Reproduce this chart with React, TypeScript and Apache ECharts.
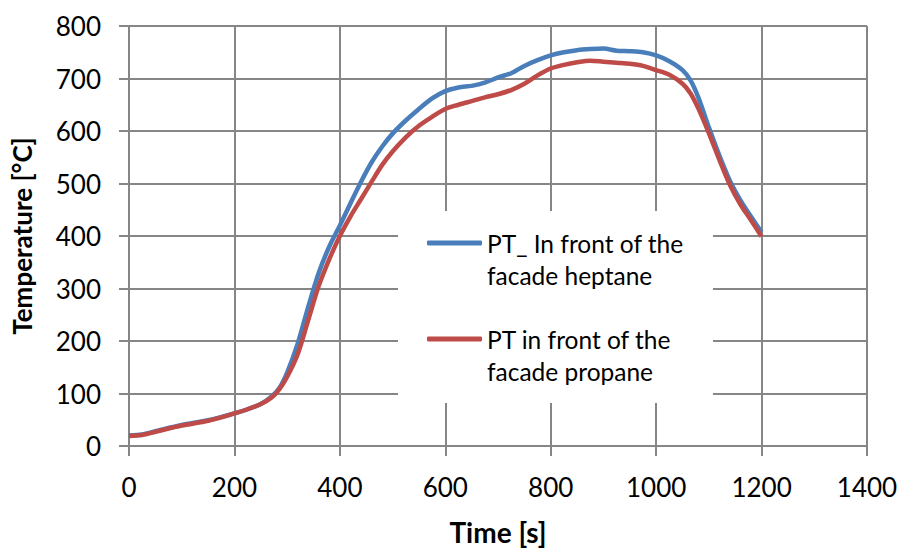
import React, { useEffect, useRef } from "react";
import * as echarts from "echarts";

const times = [0, 25, 50, 100, 150, 200, 225, 250, 270, 285, 300, 320, 340, 360, 380, 400, 420, 440, 460, 480, 500, 525, 550, 575, 600, 625, 650, 675, 700, 725, 750, 775, 800, 825, 850, 875, 900, 925, 950, 975, 1000, 1025, 1050, 1065, 1080, 1100, 1120, 1140, 1160, 1180, 1200];

const heptane = [20, 22, 28, 40, 49, 62, 70, 80, 94, 110, 140, 195, 265, 330, 380, 420, 462, 503, 540, 570, 595, 620, 642, 662, 676, 683, 686, 692, 702, 710, 724, 735, 744, 750, 754, 756, 757, 753, 752, 750, 744, 733, 716, 697, 664, 607, 553, 505, 468, 437, 407];

const propane = [19, 21, 27, 39, 48, 62, 70, 80, 92, 108, 132, 175, 240, 305, 356, 400, 437, 470, 503, 535, 561, 588, 610, 627, 642, 650, 657, 664, 670, 678, 690, 706, 719, 726, 731, 734, 732, 730, 728, 724, 716, 707, 690, 672, 643, 596, 545, 497, 460, 430, 399];

const seriesNames = ["PT_ In front of the\nfacade heptane", "PT in front of the\nfacade propane"];
const colors = ["#4a7ebb", "#be4b48"];
const xTicks = { min: 0, max: 1400, interval: 200 };
const yTicks = { min: 0, max: 800, interval: 100 };

const FONT = "Lato, 'Open Sans', sans-serif";

export default function App() {
  const ref = useRef<HTMLDivElement>(null);
  useEffect(() => {
    if (!ref.current) return;
    const chart = echarts.init(ref.current, undefined, { renderer: "svg" });
    const pair = (vals: number[]) => times.map((t, i) => [t, vals[i]]);
    chart.setOption({
      animation: false,
      backgroundColor: "#ffffff",
      textStyle: { fontFamily: FONT },
      grid: { left: 129, right: 35, top: 26, bottom: 105, containLabel: false, outerBoundsMode: "none" },
      xAxis: {
        type: "value",
        min: xTicks.min,
        max: xTicks.max,
        interval: xTicks.interval,
        name: "Time [s]",
        nameLocation: "middle",
        nameGap: 72,
        nameTextStyle: { fontFamily: FONT, fontWeight: "bold", fontSize: 28, color: "#000" },
        axisLine: { show: true, lineStyle: { color: "#868686", width: 2 } },
        axisTick: { show: true, length: 10, inside: false, lineStyle: { color: "#868686", width: 2 } },
        axisLabel: { fontFamily: FONT, fontSize: 26, color: "#000", margin: 28, formatter: (v: number) => String(v) },
        splitLine: { show: true, lineStyle: { color: "#868686", width: 2 } },
      },
      yAxis: {
        type: "value",
        min: yTicks.min,
        max: yTicks.max,
        interval: yTicks.interval,
        name: "Temperature [°C]",
        nameLocation: "middle",
        nameGap: 94,
        nameRotate: 90,
        nameTextStyle: { fontFamily: FONT, fontWeight: "bold", fontSize: 26, color: "#000" },
        axisLine: { show: true, lineStyle: { color: "#868686", width: 2 } },
        axisTick: { show: true, length: 10, inside: false, lineStyle: { color: "#868686", width: 2 } },
        axisLabel: { fontFamily: FONT, fontSize: 26, color: "#000", margin: 28, formatter: (v: number) => String(v) },
        splitLine: { show: true, lineStyle: { color: "#868686", width: 2 } },
      },
      legend: {
        orient: "vertical",
        left: 427,
        top: 195,
        padding: 0,
        itemGap: 0,
        itemWidth: 55,
        itemHeight: 5,
        icon: "roundRect",
        formatter: (name: string) => " \n" + name,
        textStyle: { fontFamily: FONT, fontSize: 24.5, color: "#000", lineHeight: 32 },
        data: seriesNames,
      },
      graphic: [
        {
          type: "rect",
          z: 1,
          shape: { x: 398, y: 211, width: 315, height: 192 },
          style: { fill: "#ffffff" },
        },
      ],
      series: [
        {
          name: seriesNames[0],
          type: "line",
          data: pair(heptane),
          showSymbol: false,
          smooth: 0.3,
          lineStyle: { color: colors[0], width: 4.5 },
          itemStyle: { color: colors[0] },
          z: 3,
        },
        {
          name: seriesNames[1],
          type: "line",
          data: pair(propane),
          showSymbol: false,
          smooth: 0.3,
          lineStyle: { color: colors[1], width: 4.5 },
          itemStyle: { color: colors[1] },
          z: 4,
        },
      ],
    });
    return () => chart.dispose();
  }, []);
  return <div ref={ref} style={{ width: 902, height: 551, position: "absolute", left: 0, top: 0 }} />;
}
